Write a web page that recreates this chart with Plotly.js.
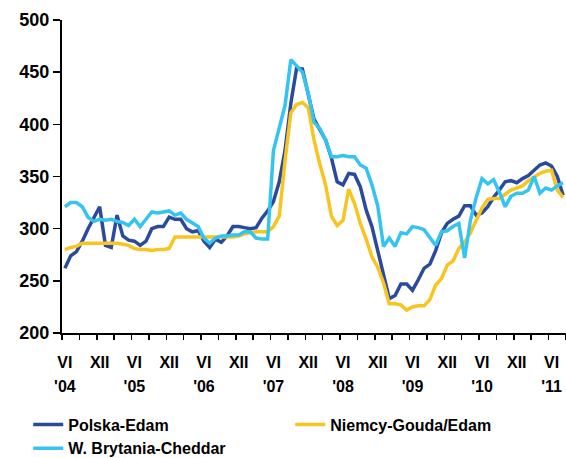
<!DOCTYPE html>
<html><head><meta charset="utf-8">
<script src="https://cdn.plot.ly/plotly-3.0.1.min.js"></script>
<style>html,body{margin:0;padding:0;background:#fff}#chart{width:566px;height:458px}</style>
</head><body><div id="chart"></div>
<script>
// Monthly categories: VI 2004 .. VIII 2011
const months = [
 "2004-06","2004-07","2004-08","2004-09","2004-10","2004-11","2004-12",
 "2005-01","2005-02","2005-03","2005-04","2005-05","2005-06","2005-07","2005-08","2005-09","2005-10","2005-11","2005-12",
 "2006-01","2006-02","2006-03","2006-04","2006-05","2006-06","2006-07","2006-08","2006-09","2006-10","2006-11","2006-12",
 "2007-01","2007-02","2007-03","2007-04","2007-05","2007-06","2007-07","2007-08","2007-09","2007-10","2007-11","2007-12",
 "2008-01","2008-02","2008-03","2008-04","2008-05","2008-06","2008-07","2008-08","2008-09","2008-10","2008-11","2008-12",
 "2009-01","2009-02","2009-03","2009-04","2009-05","2009-06","2009-07","2009-08","2009-09","2009-10","2009-11","2009-12",
 "2010-01","2010-02","2010-03","2010-04","2010-05","2010-06","2010-07","2010-08","2010-09","2010-10","2010-11","2010-12",
 "2011-01","2011-02","2011-03","2011-04","2011-05","2011-06","2011-07","2011-08"
];

const polskaEdam = [
 262,274,278,288,300,311,321,284,282,313,293,289,288,284,288,300,302,302,311,309,309,300,297,298,
 288,282,290,287,293,302,302,301,300,301,310,317,326,345,375,420,454,453,428,405,395,385,368,345,
 342,353,352,340,318,302,279,255,233,236,247,247,241,251,262,266,279,296,305,309,312,322,322,313,
 315,321,330,337,345,346,344,348,351,356,361,363,360,350,332
];

const niemcyGoudaEdam = [
 280,282,283,286,286,286,286,286,286,286,285,284,281,280,280,279,280,280,281,292,292,292,292,292,
 292,292,292,292,292,292,293,295,296,297,297,297,302,312,365,411,419,421,416,385,362,342,312,303,
 308,338,324,305,290,273,263,248,228,228,227,222,225,226,226,232,246,252,265,269,281,287,296,308,
 320,328,329,329,333,337,339,341,346,350,353,355,356,337,330
];

const wBrytaniaCheddar = [
 321,325,325,321,311,307,309,308,309,307,306,303,309,302,309,316,315,316,317,313,315,309,305,302,
 291,286,291,293,293,294,294,297,297,291,290,290,375,395,418,462,456,450,430,402,396,385,369,369,
 370,369,369,361,358,342,322,283,291,283,296,295,302,301,299,292,284,297,298,302,305,272,308,330,
 348,343,347,335,321,331,334,334,337,350,334,339,337,341,344
];

const seriesNames = ["Polska-Edam", "Niemcy-Gouda/Edam", "W. Brytania-Cheddar"];
const seriesColors = ["#2B4A9C", "#F8C520", "#35C4F0"];
const seriesXAxis = ["x", "x", "x2"];

const monthTickPos = [0,6,12,18,24,30,36,42,48,54,60,66,72,78,84];
const monthTickText = ["VI","XII","VI","XII","VI","XII","VI","XII","VI","XII","VI","XII","VI","XII","VI"];
const yearTickPos = [0,12,24,36,48,60,72,84];
const yearTickText = ["'04","'05","'06","'07","'08","'09","'10","'11"];

const xIdx = months.map((m, i) => i);
const allSeries = [polskaEdam, niemcyGoudaEdam, wBrytaniaCheddar];

const traces = allSeries.map((vals, k) => ({
  type: "scatter", mode: "lines",
  x: xIdx, y: vals, text: months,
  name: seriesNames[k],
  line: {color: seriesColors[k], width: 3.5},
  xaxis: seriesXAxis[k], yaxis: "y"
}));

const FONT = "Liberation Sans, Arial, Helvetica, sans-serif";
const xr = [-0.5, months.length - 0.5];

const layout = {
  width: 566, height: 458,
  margin: {l: 62, r: 0, t: 20, b: 125, autoexpand: false},
  paper_bgcolor: "#fff", plot_bgcolor: "#fff",
  showlegend: true,
  font: {family: FONT, color: "#000", size: 16, weight: "bold"},
  xaxis: {
    range: xr, showgrid: false, zeroline: false, automargin: false,
    showline: true, linecolor: "#000", linewidth: 2,
    tickmode: "array", tickvals: monthTickPos, ticktext: monthTickText,
    ticks: "", ticklabelstandoff: 14,
    tickfont: {family: FONT, size: 16, color: "#000", weight: "bold"},
    minor: {tickmode: "linear", tick0: -0.5, dtick: 3, ticks: "outside", ticklen: 5, tickwidth: 1.5, tickcolor: "#000", showgrid: false}
  },
  xaxis2: {
    overlaying: "x", anchor: "y", side: "bottom", range: xr, automargin: false,
    showgrid: false, zeroline: false, showline: false,
    tickmode: "array", tickvals: yearTickPos, ticktext: yearTickText,
    ticks: "", ticklabelstandoff: 42,
    tickfont: {family: FONT, size: 16, color: "#000", weight: "bold"}
  },
  yaxis: {
    range: [200, 500], tickmode: "linear", tick0: 200, dtick: 50,
    showgrid: false, zeroline: false, automargin: false,
    showline: true, linecolor: "#000", linewidth: 2,
    ticks: "outside", ticklen: 7, tickwidth: 1.5, tickcolor: "#000",
    tickfont: {family: FONT, size: 18, color: "#000", weight: "bold"}
  },
  legend: {
    orientation: "h", x: -0.067, xanchor: "left", y: -0.238, yanchor: "top",
    entrywidth: 217, entrywidthmode: "pixels",
    font: {family: FONT, size: 16, color: "#000", weight: "bold"},
    bgcolor: "rgba(0,0,0,0)", traceorder: "normal"
  }
};

Plotly.newPlot("chart", traces, layout, {displayModeBar: false, staticPlot: true});
</script>
</body></html>
